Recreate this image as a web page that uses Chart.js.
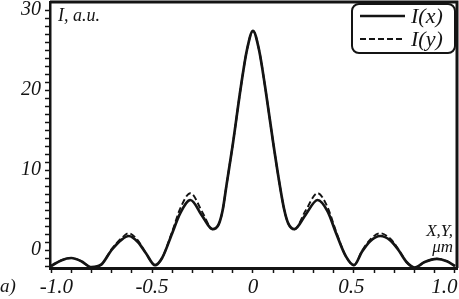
<!DOCTYPE html>
<html>
<head>
<meta charset="utf-8">
<script src="https://cdn.jsdelivr.net/npm/chart.js@4.4.1/dist/chart.umd.min.js"></script>
<style>
  html, body { margin: 0; padding: 0; background: #fff; }
</style>
</head>
<body>
<canvas id="chart" width="459" height="299"></canvas>
<script>
// Intensity profiles (position in um, intensity in a.u.)
const positions = [-1.0, -0.95, -0.9, -0.85, -0.8, -0.75, -0.7, -0.65, -0.615, -0.57, -0.53, -0.485,
  -0.45, -0.4, -0.36, -0.31, -0.25, -0.2, -0.17, -0.15, -0.13, -0.1, -0.06, -0.03, 0,
  0.03, 0.06, 0.1, 0.13, 0.155, 0.175, 0.205, 0.26, 0.32, 0.37, 0.41, 0.46, 0.5,
  0.54, 0.58, 0.63, 0.68, 0.72, 0.76, 0.8, 0.85, 0.91, 0.96, 1.0];
const intensityX = [-2.0, -1.3, -1.0, -1.4, -2.15, -1.8, 0.0, 1.3, 1.75, 1.0, -0.4, -1.9,
  -1.0, 2.1, 4.6, 6.25, 4.2, 2.6, 3.2, 5.0, 8.3, 13.2, 20.4, 25.0, 27.4,
  25.0, 20.4, 13.4, 8.5, 5.0, 3.3, 2.6, 4.4, 6.25, 4.8, 2.2, -0.8, -1.9,
  -0.2, 1.1, 1.75, 1.2, 0.0, -1.5, -2.2, -1.5, -1.1, -1.4, -2.0];
const intensityY = [-2.0, -1.3, -1.0, -1.4, -2.15, -1.8, 0.1, 1.5, 2.1, 1.2, -0.4, -1.9,
  -1.0, 2.3, 5.2, 7.1, 4.7, 2.6, 3.2, 5.0, 8.3, 13.2, 20.4, 25.0, 27.4,
  25.0, 20.4, 13.4, 8.5, 5.0, 3.3, 2.6, 4.9, 7.1, 5.3, 2.4, -0.8, -1.9,
  -0.1, 1.3, 2.1, 1.4, 0.1, -1.5, -2.2, -1.5, -1.1, -1.4, -2.0];

const xTickValues = [-1.0, -0.9, -0.8, -0.7, -0.6, -0.5, -0.4, -0.3, -0.2, -0.1, 0,
  0.1, 0.2, 0.3, 0.4, 0.5, 0.6, 0.7, 0.8, 0.9, 1.0];
const xMajorTicks = [-1.0, -0.5, 0, 0.5, 1.0];
const xMajorLabels = ['  -1.0', '-0.5', '0', '0.5 ', '1.0    '];
const yTickValues = [-2, -1, 0, 1, 2, 3, 4, 5, 6, 7, 8, 9, 10, 11, 12, 13, 14, 15, 16, 17, 18, 19,
  20, 21, 22, 23, 24, 25, 26, 27, 28, 29, 30];
const yMajorTicks = [0, 10, 20, 30];
const yMajorLabels = ['0', '10', '20', '30'];

const INK = '#141414';
const SERIF = '"Liberation Serif", "Times New Roman", serif';

const findLabel = (majors, labels, v) => {
  const i = majors.findIndex((m) => Math.abs(m - v) < 1e-6);
  return i >= 0 ? labels[i] : '';
};

// Frame (top/right border), legend box and axis annotations
const decorations = {
  id: 'decorations',
  afterDraw(chart) {
    const { ctx, chartArea: a } = chart;
    ctx.save();
    ctx.strokeStyle = INK;
    ctx.lineWidth = 3;
    ctx.beginPath();
    ctx.moveTo(a.left, a.top);
    ctx.lineTo(a.right, a.top);
    ctx.lineTo(a.right, a.bottom);
    ctx.stroke();

    // legend
    ctx.lineWidth = 2;
    ctx.beginPath();
    ctx.roundRect(352, 4, 103, 49, 7);
    ctx.fillStyle = '#fff';
    ctx.fill();
    ctx.stroke();
    ctx.font = 'italic 22px ' + SERIF;
    ctx.textBaseline = 'middle';
    ctx.textAlign = 'left';
    chart.data.datasets.forEach((ds, i) => {
      const y = 16 + i * 23;
      ctx.strokeStyle = ds.borderColor;
      ctx.lineWidth = ds.borderWidth;
      ctx.setLineDash(ds.borderDash || []);
      ctx.beginPath();
      ctx.moveTo(360, y);
      ctx.lineTo(405, y);
      ctx.stroke();
      ctx.setLineDash([]);
      ctx.fillStyle = INK;
      ctx.fillText(ds.label, 411, y + 1);
    });

    // annotations
    ctx.fillStyle = INK;
    ctx.font = 'italic 18px ' + SERIF;
    ctx.textAlign = 'left';
    ctx.fillText('I, a.u.', a.left + 8, 16);
    ctx.textAlign = 'right';
    ctx.font = 'italic 17px ' + SERIF;
    ctx.fillText('X,Y,', 453, 232);
    ctx.fillText('\u03bcm', 453, 248);
    ctx.textAlign = 'left';
    ctx.font = 'italic 19px ' + SERIF;
    ctx.fillText('a)', 0, 287);
    ctx.restore();
  },
};

new Chart(document.getElementById('chart'), {
  type: 'line',
  data: {
    datasets: [
      {
        label: 'I(x)',
        data: positions.map((x, i) => ({ x, y: intensityX[i] })),
        borderColor: INK,
        borderWidth: 2.7,
        pointRadius: 0,
        cubicInterpolationMode: 'monotone',
      },
      {
        label: 'I(y)',
        data: positions.map((x, i) => ({ x, y: intensityY[i] })),
        borderColor: INK,
        borderWidth: 1.9,
        borderDash: [6, 3],
        pointRadius: 0,
        cubicInterpolationMode: 'monotone',
      },
    ],
  },
  options: {
    responsive: false,
    animation: false,
    layout: { padding: { top: 2, right: 2, left: 0, bottom: 0 } },
    scales: {
      x: {
        type: 'linear',
        min: -1.005,
        max: 1.01,
        afterBuildTicks: (scale) => {
          scale.ticks = xTickValues.map((v) => ({ value: v }));
        },
        afterFit: (scale) => {
          scale.height = 31;
          scale.paddingLeft = 0;
          scale.paddingRight = 0;
        },
        ticks: {
          autoSkip: false,
          maxRotation: 0,
          padding: 2,
          color: INK,
          font: { family: SERIF, size: 21, style: 'italic' },
          callback: (v) => findLabel(xMajorTicks, xMajorLabels, v),
        },
        grid: {
          drawOnChartArea: false,
          drawTicks: true,
          tickLength: 5,
          tickColor: INK,
          tickWidth: 1.5,
        },
        border: { display: true, color: INK, width: 3 },
      },
      y: {
        type: 'linear',
        min: -2.25,
        max: 31,
        afterBuildTicks: (scale) => {
          scale.ticks = yTickValues.map((v) => ({ value: v }));
        },
        afterFit: (scale) => {
          scale.width = 50;
          scale.paddingTop = 0;
          scale.paddingBottom = 0;
        },
        ticks: {
          autoSkip: false,
          padding: 4,
          color: INK,
          font: { family: SERIF, size: 20, style: 'italic' },
          callback: (v) => findLabel(yMajorTicks, yMajorLabels, v),
        },
        grid: {
          drawOnChartArea: false,
          drawTicks: true,
          tickLength: 5,
          tickColor: INK,
          tickWidth: 1.5,
        },
        border: { display: true, color: INK, width: 2.5 },
      },
    },
    plugins: {
      legend: { display: false },
      tooltip: { enabled: false },
    },
  },
  plugins: [decorations],
});
</script>
</body>
</html>
